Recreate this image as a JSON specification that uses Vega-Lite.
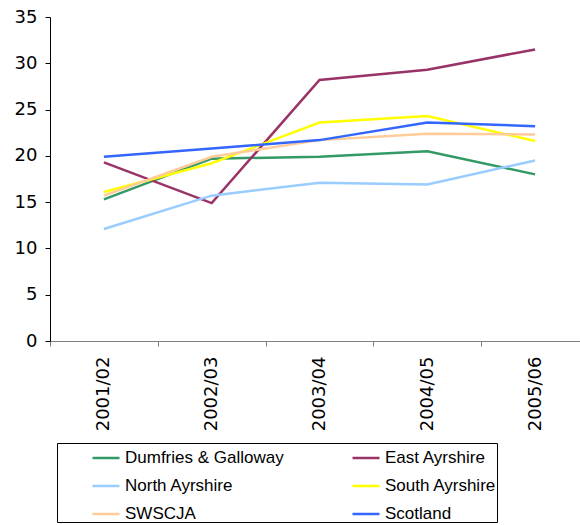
{
  "$schema": "https://vega.github.io/schema/vega-lite/v6.json",
  "autosize": {"type": "none"},
  "padding": {"left": 50, "top": 17, "right": 0, "bottom": 184},
  "width": 539,
  "height": 324,
  "background": "white",
  "config": {"view": {"stroke": null}},
  "data": {"values": [
    {"area": "Dumfries & Galloway", "year": "2001/02", "value": 15.3},
    {"area": "Dumfries & Galloway", "year": "2002/03", "value": 19.7},
    {"area": "Dumfries & Galloway", "year": "2003/04", "value": 19.9},
    {"area": "Dumfries & Galloway", "year": "2004/05", "value": 20.5},
    {"area": "Dumfries & Galloway", "year": "2005/06", "value": 18.0},
    {"area": "East Ayrshire", "year": "2001/02", "value": 19.3},
    {"area": "East Ayrshire", "year": "2002/03", "value": 14.9},
    {"area": "East Ayrshire", "year": "2003/04", "value": 28.2},
    {"area": "East Ayrshire", "year": "2004/05", "value": 29.3},
    {"area": "East Ayrshire", "year": "2005/06", "value": 31.5},
    {"area": "North Ayrshire", "year": "2001/02", "value": 12.1},
    {"area": "North Ayrshire", "year": "2002/03", "value": 15.7},
    {"area": "North Ayrshire", "year": "2003/04", "value": 17.1},
    {"area": "North Ayrshire", "year": "2004/05", "value": 16.9},
    {"area": "North Ayrshire", "year": "2005/06", "value": 19.5},
    {"area": "South Ayrshire", "year": "2001/02", "value": 16.1},
    {"area": "South Ayrshire", "year": "2002/03", "value": 19.2},
    {"area": "South Ayrshire", "year": "2003/04", "value": 23.6},
    {"area": "South Ayrshire", "year": "2004/05", "value": 24.3},
    {"area": "South Ayrshire", "year": "2005/06", "value": 21.6},
    {"area": "SWSCJA", "year": "2001/02", "value": 15.7},
    {"area": "SWSCJA", "year": "2002/03", "value": 19.9},
    {"area": "SWSCJA", "year": "2003/04", "value": 21.7},
    {"area": "SWSCJA", "year": "2004/05", "value": 22.4},
    {"area": "SWSCJA", "year": "2005/06", "value": 22.3},
    {"area": "Scotland", "year": "2001/02", "value": 19.9},
    {"area": "Scotland", "year": "2002/03", "value": 20.8},
    {"area": "Scotland", "year": "2003/04", "value": 21.7},
    {"area": "Scotland", "year": "2004/05", "value": 23.6},
    {"area": "Scotland", "year": "2005/06", "value": 23.2}
  ]},
  "mark": {"type": "line", "strokeWidth": 2.5},
  "encoding": {
    "x": {
      "field": "year", "type": "ordinal", "bandPosition": 0.5,
      "scale": {"type": "band", "paddingInner": 0, "paddingOuter": 0},
      "axis": {"title": null, "labelAngle": -90, "tickBand": "extent", "domainColor": "#808080", "tickColor": "#808080", "tickSize": 5, "labelPadding": 10, "labelFont": "DejaVu Sans", "labelFontSize": 18, "labelColor": "black"}
    },
    "y": {
      "field": "value", "type": "quantitative",
      "scale": {"domain": [0, 35], "nice": false},
      "axis": {"title": null, "values": [0, 5, 10, 15, 20, 25, 30, 35], "grid": false, "domainColor": "black", "tickColor": "black", "tickSize": 5, "labelPadding": 8, "labelFont": "DejaVu Sans", "labelFontSize": 18, "labelColor": "black"}
    },
    "color": {
      "field": "area", "type": "nominal",
      "scale": {
        "domain": ["Dumfries & Galloway", "East Ayrshire", "North Ayrshire", "South Ayrshire", "SWSCJA", "Scotland"],
        "range": ["#339966", "#993366", "#99CCFF", "#FFFF00", "#FFCC99", "#3366FF"]
      },
      "legend": {
        "title": null, "orient": "none", "legendX": 7, "legendY": 426, "columns": 2, "direction": "horizontal",
        "symbolType": "stroke", "symbolSize": 729, "symbolStrokeWidth": 2.5,
        "labelFont": "Liberation Sans", "labelFontSize": 17, "labelColor": "black", "labelLimit": 1000,
        "strokeColor": "black", "padding": 0, "rowPadding": 5, "columnPadding": 33,
        "symbolOffset": 34, "labelOffset": 4, "gridAlign": "each"
      }
    }
  }
}
